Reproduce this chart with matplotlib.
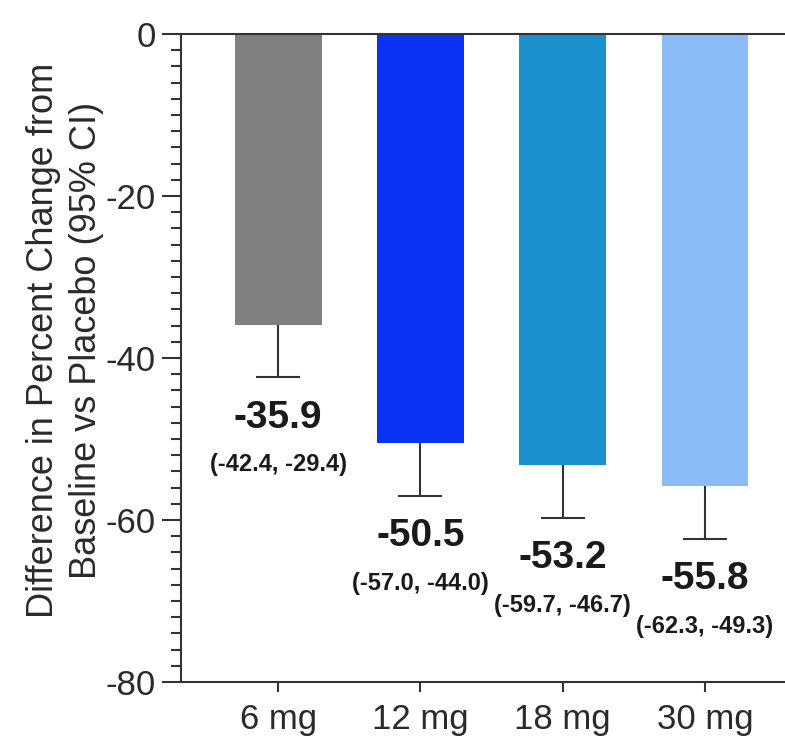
import matplotlib.pyplot as plt
from matplotlib.ticker import MultipleLocator
import numpy as np

doses = ["6 mg", "12 mg", "18 mg", "30 mg"]
diff = [-35.9, -50.5, -53.2, -55.8]
ci_low = [-42.4, -57.0, -59.7, -62.3]
ci_high = [-29.4, -44.0, -46.7, -49.3]
colors = ["#808080", "#0a32f5", "#1a90cc", "#8cbcf7"]

plt.rcParams['font.family'] = ["Liberation Sans", "DejaVu Sans"]
plt.rcParams['axes.unicode_minus'] = False

fig = plt.figure(figsize=(7.85, 7.44), dpi=100)
ax = fig.add_axes([181/785, 1 - 682/744, 1 - 181/785, (682 - 34)/744])

x = np.arange(len(doses))
ax.bar(x, diff, width=0.61, color=colors, zorder=2)

# only the lower arm of the CI is shown, with a cap at the lower limit
ax.vlines(x, ci_low, diff, color='#333333', linewidth=1.5, zorder=3)
ax.hlines(ci_low, x - 0.155, x + 0.155, color='#333333', linewidth=1.5, zorder=3)

for xi, d, lo, hi in zip(x, diff, ci_low, ci_high):
    ax.text(xi, lo - 5.0, f"{d:.1f}", ha='center', va='center',
            fontsize=28, fontweight='bold', color='#1a1a1a')
    ax.text(xi, lo - 10.8, f"({lo:.1f}, {hi:.1f})", ha='center', va='center',
            fontsize=17, fontweight='bold', color='#1a1a1a')

ax.set_xlim(-0.683, 3.563)
ax.set_ylim(-80, 0)
ax.yaxis.set_major_locator(MultipleLocator(20))
ax.yaxis.set_minor_locator(MultipleLocator(2))
ax.set_xticks(x, doses)

ax.spines['right'].set_visible(False)
for side in ['left', 'top', 'bottom']:
    ax.spines[side].set_linewidth(1.5)
    ax.spines[side].set_color('#333333')

ax.tick_params(axis='y', which='major', length=14, width=1.5, color='#333333',
               labelsize=25, pad=4, labelcolor='#2a2a2a')
ax.tick_params(axis='y', which='minor', length=7, width=1.5, color='#333333')
ax.tick_params(axis='x', which='major', length=7, width=1.5, color='#333333',
               labelsize=25, pad=8, labelcolor='#2a2a2a')

fig.text(65/785, 1 - 340/744,
         "Difference in Percent Change from\nBaseline vs Placebo (95% CI)",
         rotation=90, ha='center', va='center', multialignment='center',
         fontsize=26, color='#2a2a2a', linespacing=1.3)

fig.savefig("out.png", dpi=100)
